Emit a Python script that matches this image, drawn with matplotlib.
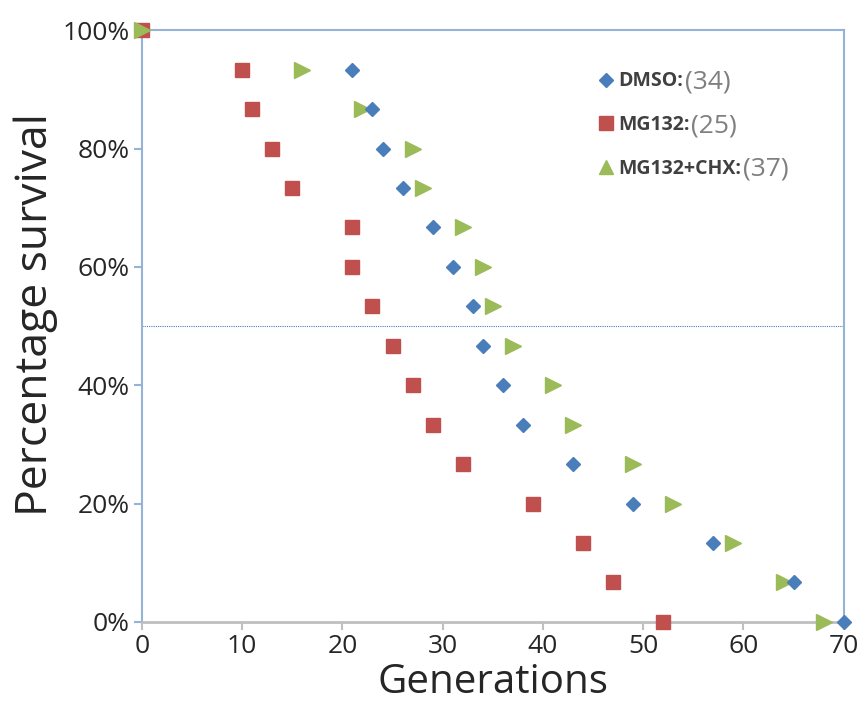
import matplotlib.pyplot as plt
from matplotlib.lines import Line2D
from matplotlib.ticker import PercentFormatter

plt.rcParams['font.family'] = ['Open Sans', 'DejaVu Sans']

# survival levels shared by all three strains (fraction of cells still alive)
levels = [1.0, 14/15, 13/15, 12/15, 11/15, 10/15, 9/15, 8/15, 7/15,
          6/15, 5/15, 4/15, 3/15, 2/15, 1/15, 0.0]

# generations at which each level was reached
dmso_gen = [21, 23, 24, 26, 29, 31, 33, 34, 36, 38, 43, 49, 57, 65, 70]
dmso_surv = levels[1:]
mg132_gen = [0, 10, 11, 13, 15, 21, 21, 23, 25, 27, 29, 32, 39, 44, 47, 52]
chx_gen = [0, 16, 22, 27, 28, 32, 34, 35, 37, 41, 43, 49, 53, 59, 64, 68]

names = ['DMSO:', 'MG132:', 'MG132+CHX:']
medians = ['(34)', '(25)', '(37)']

blue = '#4A7EBB'
red = '#C0504D'
green = '#9BBB59'
axis_blue = '#95B3D7'

fig = plt.figure(figsize=(8.6, 7.19), dpi=100)
ax = fig.add_axes([0.165, 0.135, 0.816, 0.823])

ax.plot(mg132_gen, levels, 's', color=red, ms=10.5, clip_on=False, zorder=3)
ax.plot(chx_gen, levels, '>', color=green, ms=11, clip_on=False, zorder=4)
ax.plot(dmso_gen, dmso_surv, 'D', color=blue, ms=7, clip_on=False, zorder=5)

ax.axhline(0.5, color=blue, lw=0.8, ls=(0, (1, 1)), zorder=1)

ax.set_xlim(0, 70)
ax.set_ylim(0, 1)
ax.set_xticks(range(0, 71, 10))
ax.set_yticks([0, 0.2, 0.4, 0.6, 0.8, 1.0])
ax.yaxis.set_major_formatter(PercentFormatter(1.0, decimals=0))

for s in ['left', 'top', 'right']:
    ax.spines[s].set_color(axis_blue)
    ax.spines[s].set_linewidth(1.5)
ax.spines['bottom'].set_color('#BFBFBF')
ax.spines['bottom'].set_linewidth(2)

ax.tick_params(axis='x', colors='#BFBFBF', length=6, width=1.5,
               labelcolor='#262626', labelsize=19, pad=3)
ax.tick_params(axis='y', colors=axis_blue, length=6, width=1.5,
               labelcolor='#262626', labelsize=19, pad=3)

ax.set_xlabel('Generations', fontsize=29, color='#262626', labelpad=2)
ax.set_ylabel('Percentage survival', fontsize=32, color='#262626')
ax.yaxis.set_label_coords(-0.119, 0.52)

handles = [Line2D([], [], ls='', marker='D', color=blue, ms=7),
           Line2D([], [], ls='', marker='s', color=red, ms=10),
           Line2D([], [], ls='', marker='^', color=green, ms=10)]
leg = ax.legend(handles, names, loc='upper left', bbox_to_anchor=(0.625, 0.96),
                frameon=False, fontsize=14, labelspacing=1.23,
                handlelength=0.8, handletextpad=0.25)
for t in leg.get_texts():
    t.set_color('#404040')
    t.set_fontweight('bold')

fig.canvas.draw()
for t, m in zip(leg.get_texts(), medians):
    ax.annotate(m, xy=(1, 0), xycoords=t, xytext=(1, -2),
                textcoords='offset points', ha='left', va='bottom',
                fontsize=19, color='#7F7F7F')

fig.savefig('out.png', dpi=100)
